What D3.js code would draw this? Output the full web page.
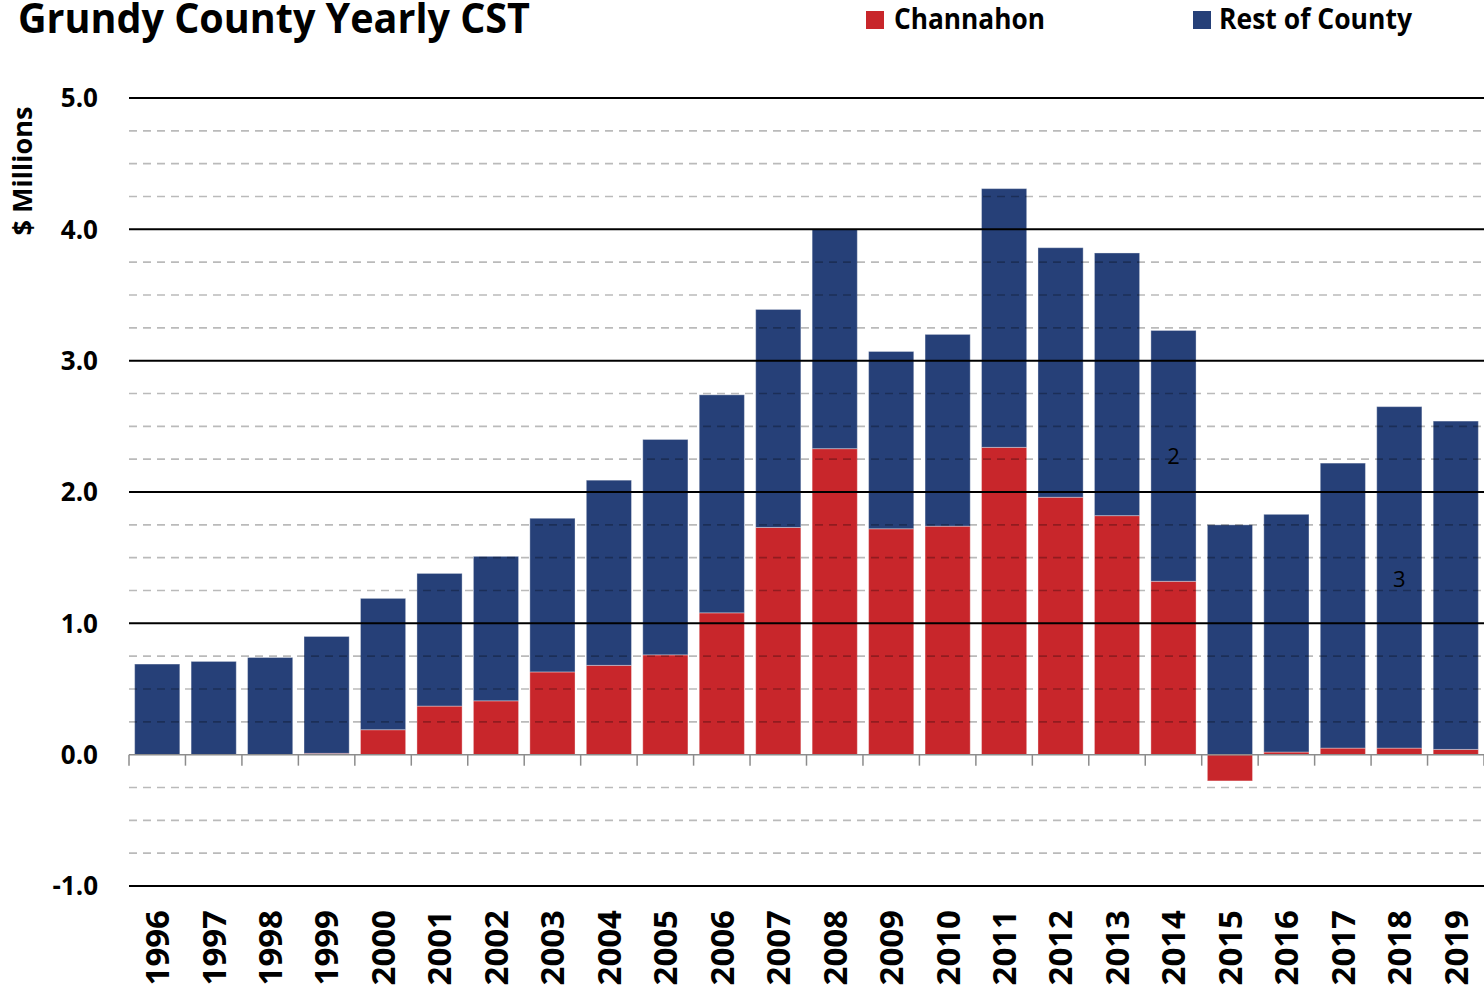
<!DOCTYPE html>
<html>
<head>
<meta charset="utf-8">
<script src="https://cdn.jsdelivr.net/npm/d3@7"></script>
<style>
  body { margin: 0; background: white; }
  svg { display: block; font-family: "Open Sans", sans-serif; }
</style>
</head>
<body>
<svg width="1484" height="991"></svg>
<script>
// values in $ millions
const years = ["1996", "1997", "1998", "1999", "2000", "2001", "2002", "2003", "2004", "2005", "2006", "2007",
    "2008", "2009", "2010", "2011", "2012", "2013", "2014", "2015", "2016", "2017", "2018", "2019"]
const channahon = [0, 0, 0, 0.01, 0.19, 0.37, 0.41, 0.63, 0.68, 0.76, 1.08, 1.73,
    2.33, 1.72, 1.74, 2.34, 1.96, 1.82, 1.32, -0.20, 0.02, 0.05, 0.05, 0.04]
const restOfCounty = [0.69, 0.71, 0.74, 0.89, 1.00, 1.01, 1.10, 1.17, 1.41, 1.64, 1.66, 1.66,
    1.67, 1.35, 1.46, 1.97, 1.90, 2.00, 1.91, 1.75, 1.81, 2.17, 2.60, 2.50]
const yTicks = [-1, 0, 1, 2, 3, 4, 5]
const seriesNames = ["Channahon", "Rest of County"]
const notes = [{ year: "2014", value: 2.27, label: "2" }, { year: "2018", value: 1.34, label: "3" }]

const colors = { "Channahon": "#c8262b", "Rest of County": "#264078" }

function drawChart() {
    const svg = d3.select("svg")
    const left = 129, right = 1484, top = 98, bottom = 886

    const rows = years.map((y, i) => ({ year: y, "Channahon": channahon[i], "Rest of County": restOfCounty[i] }))
    const stacked = d3.stack().keys(seriesNames).offset(d3.stackOffsetDiverging)(rows)

    const x = d3.scaleBand().domain(years).range([left, right]).paddingInner(0.2).paddingOuter(0.1)
    const y = d3.scaleLinear().domain([-1, 5]).range([bottom, top])

    // bars
    svg.append("g")
        .selectAll("g")
        .data(stacked)
        .enter()
        .append("g")
        .attr("fill", d => colors[d.key])
        .selectAll("rect")
        .data(d => d)
        .enter()
        .append("rect")
        .attr("x", d => x(d.data.year))
        .attr("width", x.bandwidth())
        .attr("y", d => y(Math.max(d[0], d[1])))
        .attr("height", d => Math.abs(y(d[0]) - y(d[1])))
        .attr("stroke", "#ffffff")
        .attr("stroke-opacity", 0.35)
        .attr("stroke-width", 1)

    // dashed minor grid, drawn over the bars
    const minor = d3.range(-1, 5.01, 0.25).filter(v => Math.abs(v - Math.round(v)) > 0.01)
    svg.append("g")
        .selectAll("line")
        .data(minor)
        .enter()
        .append("line")
        .attr("x1", left)
        .attr("x2", right)
        .attr("y1", d => y(d))
        .attr("y2", d => y(d))
        .attr("stroke", "#000")
        .attr("stroke-opacity", 0.27)
        .attr("stroke-width", 1.6)
        .attr("stroke-dasharray", "8,6")

    // solid major grid
    svg.append("g")
        .selectAll("line")
        .data(yTicks.filter(v => v !== 0))
        .enter()
        .append("line")
        .attr("x1", left)
        .attr("x2", right)
        .attr("y1", d => y(d))
        .attr("y2", d => y(d))
        .attr("stroke", "#000")
        .attr("stroke-width", 2)

    // zero axis with ticks between categories
    const gap = (x.step() - x.bandwidth()) / 2
    const bounds = years.map(d => x(d) - gap).concat([x(years[years.length - 1]) + x.bandwidth() + gap])
    const zero = svg.append("g").attr("stroke", "#8c8c8c").attr("stroke-width", 1.5)
    zero.append("line")
        .attr("x1", left).attr("x2", right)
        .attr("y1", y(0)).attr("y2", y(0))
    zero.selectAll("line.tick")
        .data(bounds)
        .enter()
        .append("line")
        .attr("class", "tick")
        .attr("x1", d => d).attr("x2", d => d)
        .attr("y1", y(0)).attr("y2", y(0) + 11)

    // y tick labels
    svg.append("g")
        .selectAll("text")
        .data(yTicks)
        .enter()
        .append("text")
        .attr("x", 98)
        .attr("y", d => y(d))
        .attr("dy", "0.36em")
        .attr("text-anchor", "end")
        .attr("font-size", 26)
        .attr("font-weight", "bold")
        .text(d => d3.format(".1f")(d).replace("−", "-"))

    // x labels, rotated
    svg.append("g")
        .selectAll("text")
        .data(years)
        .enter()
        .append("text")
        .attr("transform", d => `translate(${x(d) + x.bandwidth() / 2}, 910) rotate(-90)`)
        .attr("dy", "0.36em")
        .attr("text-anchor", "end")
        .attr("font-size", 33)
        .attr("font-weight", "bold")
        .text(d => d)

    // axis title
    svg.append("text")
        .attr("transform", "translate(22, 171) rotate(-90)")
        .attr("dy", "0.36em")
        .attr("text-anchor", "middle")
        .attr("font-size", 27)
        .attr("font-weight", "bold")
        .text("$ Millions")

    // footnote markers
    svg.append("g")
        .selectAll("text")
        .data(notes)
        .enter()
        .append("text")
        .attr("x", d => x(d.year) + x.bandwidth() / 2)
        .attr("y", d => y(d.value))
        .attr("dy", "0.36em")
        .attr("text-anchor", "middle")
        .attr("font-size", 22)
        .text(d => d.label)

    // title
    svg.append("text")
        .attr("x", 18)
        .attr("y", 33)
        .attr("font-size", 41)
        .attr("font-weight", "bold")
        .attr("textLength", 512)
        .attr("lengthAdjust", "spacingAndGlyphs")
        .text("Grundy County Yearly CST")

    // legend
    const legendPos = [{ sx: 866, tx: 894, w: 151 }, { sx: 1193, tx: 1219, w: 193 }]
    const legend = svg.append("g")
        .selectAll("g")
        .data(seriesNames)
        .enter()
        .append("g")
    legend.append("rect")
        .attr("x", (d, i) => legendPos[i].sx)
        .attr("y", 11)
        .attr("width", 18)
        .attr("height", 18)
        .attr("fill", d => colors[d])
    legend.append("text")
        .attr("x", (d, i) => legendPos[i].tx)
        .attr("y", 29)
        .attr("font-size", 28)
        .attr("font-weight", "bold")
        .attr("textLength", (d, i) => legendPos[i].w)
        .attr("lengthAdjust", "spacingAndGlyphs")
        .text(d => d)
}
drawChart()
</script>
</body>
</html>
